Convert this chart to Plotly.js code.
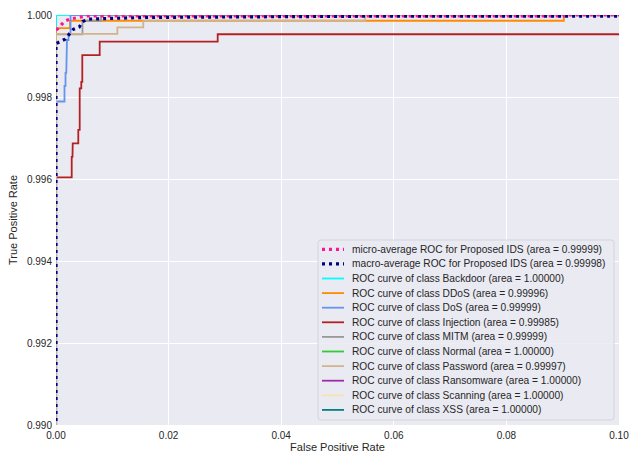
<!DOCTYPE html>
<html>
<head>
<meta charset="utf-8">
<script src="https://cdn.plot.ly/plotly-3.0.1.min.js"></script>
<style>html,body{margin:0;padding:0;background:#fff;}#chart{width:629px;height:457px;}</style>
</head>
<body>
<div id="chart"></div>
<script>
// ---- data ----
var microFpr = [0, 0.00036, 0.00094, 0.00155, 0.00243, 0.00373, 0.00444, 0.00568, 0.0902, 0.0902, 1];
var microTpr = [0.99964, 0.99967, 0.99976, 0.99985, 0.9999, 0.99993, 0.99995, 0.99998, 0.99998, 1, 1];

var macroFpr = [0, 0, 0.00041, 0.0016, 0.00307, 0.00414, 0.00474, 0.00574, 0.00835, 0.0155, 0.0549, 0.0902, 1];
var macroTpr = [0, 0.9993, 0.99933, 0.99941, 0.99965, 0.99971, 0.99984, 0.9999, 0.99991, 0.99994, 0.99997, 1, 1];

var perfectFpr = [0, 0, 1];
var perfectTpr = [0, 1, 1];

var ddosFpr = [0, 0, 0.00249, 0.00249, 0.0902, 0.0902, 1];
var ddosTpr = [0, 0.99968, 0.99968, 0.99986, 0.99986, 1, 1];

var dosFpr = [0, 0, 0.00005, 0.00151, 0.00151, 0.00169, 0.00169, 0.00183, 0.00183, 0.00195, 0.00195, 0.00222, 0.00222, 0.00258, 0.00258, 1];
var dosTpr = [0, 0.99752, 0.99789, 0.99789, 0.99827, 0.99827, 0.99859, 0.99859, 0.99902, 0.99902, 0.99939, 0.99939, 0.99954, 0.99954, 1, 1];

var injFpr = [0, 0, 0.00279, 0.00279, 0.00293, 0.00297, 0.00396, 0.00396, 0.00421, 0.00421, 0.00449, 0.00449, 0.00467, 0.00467, 0.00776, 0.00776, 0.02872, 0.02872, 1];
var injTpr = [0, 0.99604, 0.99604, 0.99654, 0.99654, 0.99687, 0.99687, 0.9972, 0.9972, 0.99821, 0.99821, 0.99837, 0.99837, 0.99902, 0.99902, 0.99935, 0.99935, 0.99953, 0.99953];

var mitmFpr = [0, 0, 0.0047, 0.0047, 0.008, 0.008, 1];
var mitmTpr = [0, 0.99953, 0.99953, 0.99986, 0.99986, 1, 1];

var pwdFpr = [0, 0, 0.0109, 0.0109, 0.0155, 0.0155, 0.0549, 0.0549, 1];
var pwdTpr = [0, 0.99954, 0.99954, 0.9997, 0.9997, 0.99986, 0.99986, 1, 1];

var xTicks = [0, 0.02, 0.04, 0.06, 0.08, 0.1];
var xTickText = ['0.00', '0.02', '0.04', '0.06', '0.08', '0.10'];
var yTicks = [0.99, 0.992, 0.994, 0.996, 0.998, 1.0];
var yTickText = ['0.990', '0.992', '0.994', '0.996', '0.998', '1.000'];

// legend order
var legendNames = [
  'micro-average ROC for Proposed IDS (area = 0.99999)',
  'macro-average ROC for Proposed IDS (area = 0.99998)',
  'ROC curve of class Backdoor (area = 1.00000)',
  'ROC curve of class DDoS (area = 0.99996)',
  'ROC curve of class DoS (area = 0.99999)',
  'ROC curve of class Injection (area = 0.99985)',
  'ROC curve of class MITM (area = 0.99999)',
  'ROC curve of class Normal (area = 1.00000)',
  'ROC curve of class Password (area = 0.99997)',
  'ROC curve of class Ransomware (area = 1.00000)',
  'ROC curve of class Scanning (area = 1.00000)',
  'ROC curve of class XSS (area = 1.00000)'
];
var legendColors = ['#ff1493', '#000080', '#00ffff', '#ff8c00', '#6495ed', '#b22222',
                    '#999999', '#32cd32', '#d2b48c', '#9b2fa8', '#f8e0b0', '#008080'];
var DOT = '3px,4px';
var legendDash = [DOT, DOT, 'solid', 'solid', 'solid', 'solid', 'solid', 'solid', 'solid', 'solid', 'solid', 'solid'];

function line(x, y, idx, width) {
  return {
    x: x, y: y, type: 'scatter', mode: 'lines', name: legendNames[idx], showlegend: false,
    line: {color: legendColors[idx], width: width || 1.8, dash: legendDash[idx]},
    hoverinfo: 'skip'
  };
}

// drawing order (later = on top)
var traces = [
  line(perfectFpr, perfectTpr, 7),
  line(perfectFpr, perfectTpr, 9),
  line(perfectFpr, perfectTpr, 10),
  line(perfectFpr, perfectTpr, 11),
  line(perfectFpr, perfectTpr, 2),
  line(ddosFpr, ddosTpr, 3),
  line(dosFpr, dosTpr, 4),
  line(injFpr, injTpr, 5),
  line(mitmFpr, mitmTpr, 6),
  line(pwdFpr, pwdTpr, 8),
  line(microFpr, microTpr, 0, 3.2),
  line(macroFpr, macroTpr, 1, 3.2)
];

// ---- legend drawn in paper space (pixel geometry of the plot area) ----
var PL = 56, PT = 15, PW = 563, PH = 410;
function px(x) { return (x - PL) / PW; }
function py(y) { return (PT + PH - y) / PH; }
var boxL = 318, boxT = 240, boxR = 614, boxB = 420, rad = 3;
var shapes = [];
var annotations = [];
var rp = 'M' + px(boxL + rad) + ',' + py(boxT) +
  ' L' + px(boxR - rad) + ',' + py(boxT) +
  ' Q' + px(boxR) + ',' + py(boxT) + ' ' + px(boxR) + ',' + py(boxT + rad) +
  ' L' + px(boxR) + ',' + py(boxB - rad) +
  ' Q' + px(boxR) + ',' + py(boxB) + ' ' + px(boxR - rad) + ',' + py(boxB) +
  ' L' + px(boxL + rad) + ',' + py(boxB) +
  ' Q' + px(boxL) + ',' + py(boxB) + ' ' + px(boxL) + ',' + py(boxB - rad) +
  ' L' + px(boxL) + ',' + py(boxT + rad) +
  ' Q' + px(boxL) + ',' + py(boxT) + ' ' + px(boxL + rad) + ',' + py(boxT) + ' Z';
shapes.push({type: 'path', xref: 'paper', yref: 'paper', path: rp,
  fillcolor: 'rgba(234,234,242,0.85)', line: {color: '#d4d4d8', width: 1}, layer: 'above'});
for (var i = 0; i < legendNames.length; i++) {
  var yc = 249.3 + i * 14.6;
  shapes.push({type: 'line', xref: 'paper', yref: 'paper', layer: 'above',
    x0: px(322), x1: px(344), y0: py(yc), y1: py(yc),
    line: {color: legendColors[i], width: i < 2 ? 3.2 : 1.8, dash: legendDash[i]}});
  annotations.push({xref: 'paper', yref: 'paper', x: px(351), y: py(yc),
    xanchor: 'left', yanchor: 'middle', showarrow: false, text: legendNames[i],
    font: {size: 10.2, color: '#262626'}, borderpad: 0});
}

var font = 'Liberation Sans, Arial, sans-serif';
var layout = {
  width: 629, height: 457,
  margin: {l: PL, r: 629 - PL - PW, t: PT, b: 457 - PT - PH, pad: 0},
  paper_bgcolor: '#ffffff', plot_bgcolor: '#eaeaf2',
  font: {family: font, size: 10, color: '#262626'},
  showlegend: false,
  xaxis: {
    range: [0, 0.1], tickmode: 'array', tickvals: xTicks, ticktext: xTickText,
    showgrid: true, gridcolor: '#ffffff', gridwidth: 1, zeroline: false, showline: false,
    ticks: '', ticklabelstandoff: 3, ticklabeloverflow: 'allow', tickfont: {size: 10, color: '#262626'},
    title: {text: 'False Positive Rate', font: {size: 11, color: '#262626'}, standoff: 3}
  },
  yaxis: {
    range: [0.99, 1.0], tickmode: 'array', tickvals: yTicks, ticktext: yTickText,
    showgrid: true, gridcolor: '#ffffff', gridwidth: 1, zeroline: false, showline: false,
    ticks: '', ticklabelstandoff: 3, ticklabeloverflow: 'allow', tickfont: {size: 10, color: '#262626'},
    title: {text: 'True Positive Rate', font: {size: 11, color: '#262626'}, standoff: 7}
  },
  shapes: shapes,
  annotations: annotations
};

Plotly.newPlot('chart', traces, layout, {displayModeBar: false, staticPlot: true});
</script>
</body>
</html>
